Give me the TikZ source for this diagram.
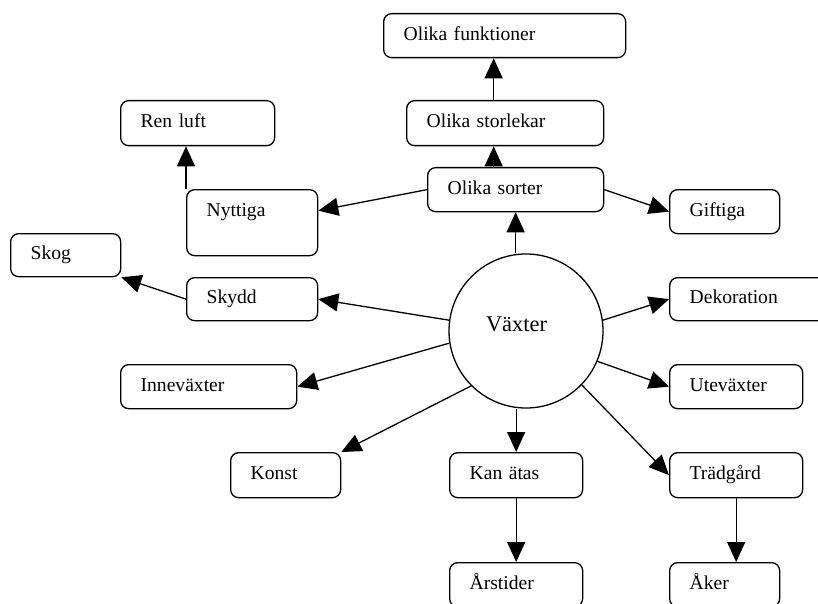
\documentclass[tikz,border=0pt]{standalone}
\usepackage{fontspec}
\setmainfont{Liberation Serif}
\usetikzlibrary{arrows.meta}
\begin{document}
\begin{tikzpicture}[x=1pt, y=-1pt, line width=1.3pt, line join=round, font=\fontsize{19.6}{22}\selectfont, >={Triangle[length=20pt,width=18pt]},
	hop/.style={draw, rounded corners=8pt, anchor=north west, align=left, inner xsep=20pt, inner ysep=0pt, execute at begin node=\strut}]
	\useasboundingbox (0,0) rectangle (818,604);
	\def\r{77} % bán kính hình tròn
	\node[draw, circle, minimum size=2*\r, inner sep=0pt, label={[font=\fontsize{22.4}{26}\selectfont, xshift=-9.5pt, yshift=6.5pt]center:Växter}] (vaxter) at (526,331) {};
	% các hộp: tên/góc trái trên/rộng/cao/chữ
	\foreach \ten/\X/\Y/\W/\H/\chu in {funk/383/13/242/44/{Olika funktioner}, storl/406/100/197/45/{Olika storlekar}, sorter/427/167/176/44/{Olika sorter}, ren/120/100/154/45/{Ren luft}, nytt/186/189/131/66/{Nyttiga\\\strut}, gift/669/189/110/44/Giftiga, skog/10/233/110/43/Skog, skydd/186/277/131/43/Skydd, dekor/669/277/160/43/Dekoration, inne/120/364/176/44/Inneväxter, ute/669/364/133/44/Uteväxter, konst/230/452/110/45/Konst, kan/449/452/133/45/{Kan ätas}, trad/669/452/133/45/Trädgård, ars/449/562/133/44/Årstider, aker/669/562/110/44/Åker}
		\node[hop, text width=\W-40, minimum height=\H] (\ten) at (\X,\Y) {\chu};
	\draw[->] (vaxter.north -| sorter) -- (sorter.south);
	\draw[->] ([xshift=-22pt]sorter.north) -- ([xshift=-11.5pt]storl.south);
	\draw[->] ([xshift=-11.5pt]storl.north) -- ([xshift=-11pt]funk.south);
	\draw[->] (sorter.west) -- ([yshift=12pt]nytt.east);
	\draw[->] (sorter.east) -- (gift.west);
	\draw[->] (nytt.north west) -- (nytt.north west |- ren.south);
	\draw[->] (vaxter.172) -- (skydd.east);
	\draw[->] (skydd.west) -- (skog.south east);
	\draw[->] (vaxter.189) -- (inne.east);
	\draw[->] (vaxter.225) -- (konst.north east);
	\draw[->] (vaxter.8) -- (dekor.west);
	\draw[->] (vaxter.-23) -- (ute.west);
	\draw[->] (vaxter.-44) -- (trad.west);
	\draw[->] (vaxter.south -| kan) -- (kan.north);
	\draw[->] (kan.south) -- (ars.north);
	\draw[->] (trad.south) -- (trad.south |- aker.north);
\end{tikzpicture}
\end{document}
